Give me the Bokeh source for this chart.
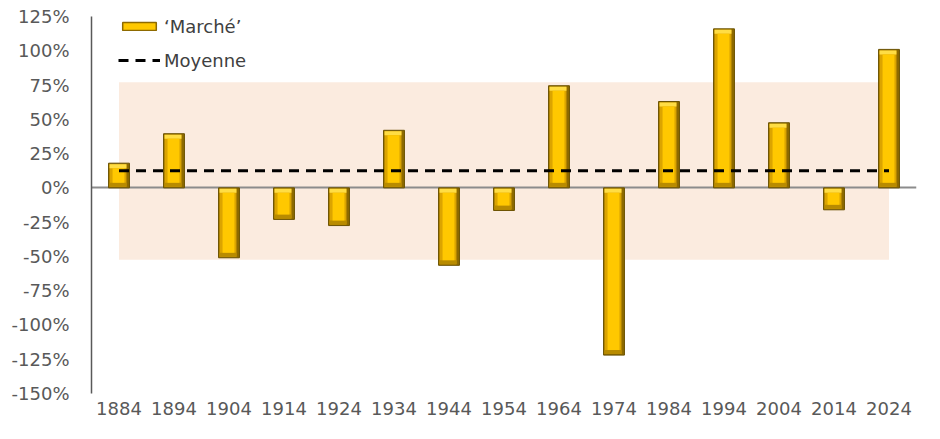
import numpy as np
from bokeh.plotting import figure
from bokeh.models import (FactorRange, Range1d, FixedTicker, PrintfTickFormatter,
                          Legend, LegendItem)
from bokeh.transform import dodge
from bokeh.embed import file_html
from bokeh.resources import INLINE

# ---- data ----
years = ["1884", "1894", "1904", "1914", "1924", "1934", "1944", "1954",
         "1964", "1974", "1984", "1994", "2004", "2014", "2024"]
marche = [18, 39.5, -51, -23, -27.5, 42, -56.5, -16.5,
          74.5, -122, 63, 116, 47.5, -16, 101]
moyenne = 12.5
band_high = 77
band_low = -52.5
y_ticks = [-150, -125, -100, -75, -50, -25, 0, 25, 50, 75, 100, 125]

FONT = "DejaVu Sans"
TXT = "#595959"

W_FIG, H_FIG = 932, 431
p = figure(width=W_FIG, height=H_FIG, output_backend="svg", toolbar_location=None,
           x_range=FactorRange(factors=years, range_padding=0),
           y_range=Range1d(-150, 125),
           min_border_left=91, min_border_right=W_FIG - 916, min_border_top=16,
           min_border_bottom=H_FIG - 393)
p.outline_line_color = None
p.background_fill_color = "white"
p.xgrid.visible = False
p.ygrid.visible = False

# band and reference lines
p.quad(left=[years[0]], right=[years[-1]], bottom=[band_low], top=[band_high],
       fill_color="#FBEBDF", line_color=None)
p.hspan(y=[0], line_color="#8c8c8c", line_width=2)

# bars with bevel look
v = np.array(marche, dtype=float)
hi = np.maximum(v, 0)
lo = np.minimum(v, 0)
px_x = 1.0 / 55.0          # one pixel in category units
px_y = 25.0 / 34.27        # one pixel in % units
W = 0.38
src = dict(x=years, hi=hi, lo=lo,
           hi1=hi - px_y, lo1=lo + px_y,
           cap_lo=hi - 5 * px_y, base_hi=lo + 5 * px_y,
           hi5=hi - 5 * px_y, lo5=lo + 5 * px_y)

p.vbar(x="x", width=W, top="hi", bottom="lo", source=src,
       fill_color="#8E6A00", line_color="#6B5200", line_width=1)
p.vbar(x=dodge("x", -1 * px_x, range=p.x_range), width=W - 4 * px_x,
       top="hi1", bottom="lo1", source=src, fill_color="#DBA400", line_color=None)
p.vbar(x=dodge("x", -1 * px_x, range=p.x_range), width=W - 4 * px_x,
       top="hi1", bottom="cap_lo", source=src, fill_color="#FFDD44", line_color=None)
p.vbar(x=dodge("x", -1 * px_x, range=p.x_range), width=W - 4 * px_x,
       top="base_hi", bottom="lo1", source=src, fill_color="#B88B00", line_color=None)
p.vbar(x=dodge("x", -0.5 * px_x, range=p.x_range), width=W - 9 * px_x,
       top="hi5", bottom="lo5", source=src, fill_color="#FFC800", line_color=None)

# mean line
r_mean = p.line(x=[years[0], years[-1]], y=[moyenne, moyenne], line_color="black",
                line_width=3, line_dash="10 7")

# legend proxy renderer (bar look)
r_leg = p.vbar(x=[years[0]], width=0, top=[0], bottom=[0], fill_color="#FFC800",
               line_color="#8E6A00", line_width=1.5)

legend = Legend(items=[LegendItem(label="\u2018March\u00e9\u2019", renderers=[r_leg]),
                       LegendItem(label="Moyenne", renderers=[r_mean])],
                location=(27, 377 - 55), orientation="vertical",
                background_fill_alpha=0, border_line_color=None,
                padding=0, margin=0, spacing=12,
                glyph_width=42, glyph_height=10, label_height=22,
                label_standoff=4, label_text_font=FONT,
                label_text_font_size="18px", label_text_color="#404040")
p.add_layout(legend)

# axes
p.yaxis.ticker = FixedTicker(ticks=y_ticks)
p.yaxis.formatter = PrintfTickFormatter(format="%d%%")
p.yaxis.axis_line_color = "#595959"
p.yaxis.axis_line_width = 1.5
p.yaxis.major_tick_line_color = None
p.yaxis.minor_tick_line_color = None
p.yaxis.major_tick_out = 0
p.yaxis.major_label_standoff = 22
p.yaxis.major_label_text_font = FONT
p.yaxis.major_label_text_font_size = "18px"
p.yaxis.major_label_text_color = TXT

p.xaxis.axis_line_color = None
p.xaxis.major_tick_line_color = None
p.xaxis.minor_tick_line_color = None
p.xaxis.major_tick_out = 0
p.xaxis.major_label_standoff = 8
p.xaxis.major_label_text_font = FONT
p.xaxis.major_label_text_font_size = "18px"
p.xaxis.major_label_text_color = TXT

open("out.html", "w").write(file_html(p, INLINE))
